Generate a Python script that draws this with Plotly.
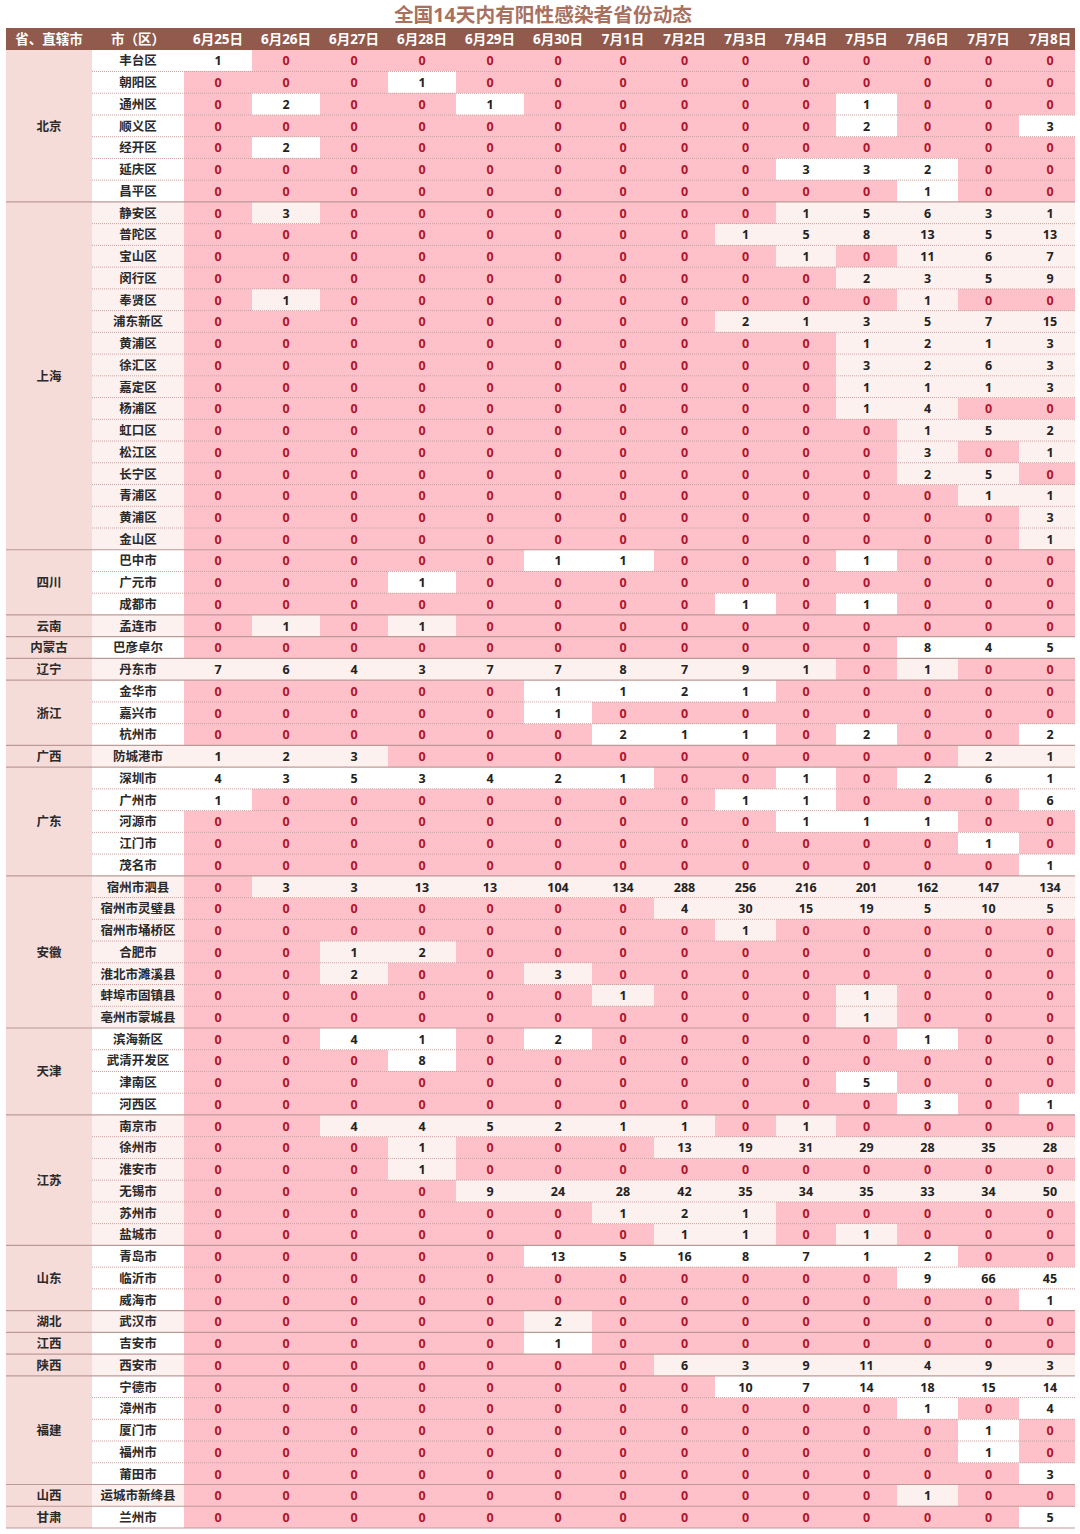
import plotly.graph_objects as go

title = "全国14天内有阳性感染者省份动态"
col_heads = ["省、直辖市", "市（区）"]
dates = ["6月25日", "6月26日", "6月27日", "6月28日", "6月29日", "6月30日", "7月1日",
         "7月2日", "7月3日", "7月4日", "7月5日", "7月6日", "7月7日", "7月8日"]

provinces = ["北京", "上海", "四川", "云南", "内蒙古", "辽宁", "浙江", "广西", "广东", "安徽",
             "天津", "江苏", "山东", "湖北", "江西", "陕西", "福建", "山西", "甘肃"]
province_rows = [7, 16, 3, 1, 1, 1, 3, 1, 5, 7, 4, 6, 3, 1, 1, 1, 5, 1, 1]

districts = ["丰台区", "朝阳区", "通州区", "顺义区", "经开区", "延庆区", "昌平区",
             "静安区", "普陀区", "宝山区", "闵行区", "奉贤区", "浦东新区", "黄浦区", "徐汇区",
             "嘉定区", "杨浦区", "虹口区", "松江区", "长宁区", "青浦区", "黄浦区", "金山区",
             "巴中市", "广元市", "成都市", "孟连市", "巴彦卓尔", "丹东市",
             "金华市", "嘉兴市", "杭州市", "防城港市",
             "深圳市", "广州市", "河源市", "江门市", "茂名市",
             "宿州市泗县", "宿州市灵璧县", "宿州市埇桥区", "合肥市", "淮北市濉溪县", "蚌埠市固镇县", "亳州市蒙城县",
             "滨海新区", "武清开发区", "津南区", "河西区",
             "南京市", "徐州市", "淮安市", "无锡市", "苏州市", "盐城市",
             "青岛市", "临沂市", "威海市", "武汉市", "吉安市", "西安市",
             "宁德市", "漳州市", "厦门市", "福州市", "莆田市", "运城市新绛县", "兰州市"]

values = [
    [1, 0, 0, 0, 0, 0, 0, 0, 0, 0, 0, 0, 0, 0],
    [0, 0, 0, 1, 0, 0, 0, 0, 0, 0, 0, 0, 0, 0],
    [0, 2, 0, 0, 1, 0, 0, 0, 0, 0, 1, 0, 0, 0],
    [0, 0, 0, 0, 0, 0, 0, 0, 0, 0, 2, 0, 0, 3],
    [0, 2, 0, 0, 0, 0, 0, 0, 0, 0, 0, 0, 0, 0],
    [0, 0, 0, 0, 0, 0, 0, 0, 0, 3, 3, 2, 0, 0],
    [0, 0, 0, 0, 0, 0, 0, 0, 0, 0, 0, 1, 0, 0],
    [0, 3, 0, 0, 0, 0, 0, 0, 0, 1, 5, 6, 3, 1],
    [0, 0, 0, 0, 0, 0, 0, 0, 1, 5, 8, 13, 5, 13],
    [0, 0, 0, 0, 0, 0, 0, 0, 0, 1, 0, 11, 6, 7],
    [0, 0, 0, 0, 0, 0, 0, 0, 0, 0, 2, 3, 5, 9],
    [0, 1, 0, 0, 0, 0, 0, 0, 0, 0, 0, 1, 0, 0],
    [0, 0, 0, 0, 0, 0, 0, 0, 2, 1, 3, 5, 7, 15],
    [0, 0, 0, 0, 0, 0, 0, 0, 0, 0, 1, 2, 1, 3],
    [0, 0, 0, 0, 0, 0, 0, 0, 0, 0, 3, 2, 6, 3],
    [0, 0, 0, 0, 0, 0, 0, 0, 0, 0, 1, 1, 1, 3],
    [0, 0, 0, 0, 0, 0, 0, 0, 0, 0, 1, 4, 0, 0],
    [0, 0, 0, 0, 0, 0, 0, 0, 0, 0, 0, 1, 5, 2],
    [0, 0, 0, 0, 0, 0, 0, 0, 0, 0, 0, 3, 0, 1],
    [0, 0, 0, 0, 0, 0, 0, 0, 0, 0, 0, 2, 5, 0],
    [0, 0, 0, 0, 0, 0, 0, 0, 0, 0, 0, 0, 1, 1],
    [0, 0, 0, 0, 0, 0, 0, 0, 0, 0, 0, 0, 0, 3],
    [0, 0, 0, 0, 0, 0, 0, 0, 0, 0, 0, 0, 0, 1],
    [0, 0, 0, 0, 0, 1, 1, 0, 0, 0, 1, 0, 0, 0],
    [0, 0, 0, 1, 0, 0, 0, 0, 0, 0, 0, 0, 0, 0],
    [0, 0, 0, 0, 0, 0, 0, 0, 1, 0, 1, 0, 0, 0],
    [0, 1, 0, 1, 0, 0, 0, 0, 0, 0, 0, 0, 0, 0],
    [0, 0, 0, 0, 0, 0, 0, 0, 0, 0, 0, 8, 4, 5],
    [7, 6, 4, 3, 7, 7, 8, 7, 9, 1, 0, 1, 0, 0],
    [0, 0, 0, 0, 0, 1, 1, 2, 1, 0, 0, 0, 0, 0],
    [0, 0, 0, 0, 0, 1, 0, 0, 0, 0, 0, 0, 0, 0],
    [0, 0, 0, 0, 0, 0, 2, 1, 1, 0, 2, 0, 0, 2],
    [1, 2, 3, 0, 0, 0, 0, 0, 0, 0, 0, 0, 2, 1],
    [4, 3, 5, 3, 4, 2, 1, 0, 0, 1, 0, 2, 6, 1],
    [1, 0, 0, 0, 0, 0, 0, 0, 1, 1, 0, 0, 0, 6],
    [0, 0, 0, 0, 0, 0, 0, 0, 0, 1, 1, 1, 0, 0],
    [0, 0, 0, 0, 0, 0, 0, 0, 0, 0, 0, 0, 1, 0],
    [0, 0, 0, 0, 0, 0, 0, 0, 0, 0, 0, 0, 0, 1],
    [0, 3, 3, 13, 13, 104, 134, 288, 256, 216, 201, 162, 147, 134],
    [0, 0, 0, 0, 0, 0, 0, 4, 30, 15, 19, 5, 10, 5],
    [0, 0, 0, 0, 0, 0, 0, 0, 1, 0, 0, 0, 0, 0],
    [0, 0, 1, 2, 0, 0, 0, 0, 0, 0, 0, 0, 0, 0],
    [0, 0, 2, 0, 0, 3, 0, 0, 0, 0, 0, 0, 0, 0],
    [0, 0, 0, 0, 0, 0, 1, 0, 0, 0, 1, 0, 0, 0],
    [0, 0, 0, 0, 0, 0, 0, 0, 0, 0, 1, 0, 0, 0],
    [0, 0, 4, 1, 0, 2, 0, 0, 0, 0, 0, 1, 0, 0],
    [0, 0, 0, 8, 0, 0, 0, 0, 0, 0, 0, 0, 0, 0],
    [0, 0, 0, 0, 0, 0, 0, 0, 0, 0, 5, 0, 0, 0],
    [0, 0, 0, 0, 0, 0, 0, 0, 0, 0, 0, 3, 0, 1],
    [0, 0, 4, 4, 5, 2, 1, 1, 0, 1, 0, 0, 0, 0],
    [0, 0, 0, 1, 0, 0, 0, 13, 19, 31, 29, 28, 35, 28],
    [0, 0, 0, 1, 0, 0, 0, 0, 0, 0, 0, 0, 0, 0],
    [0, 0, 0, 0, 9, 24, 28, 42, 35, 34, 35, 33, 34, 50],
    [0, 0, 0, 0, 0, 0, 1, 2, 1, 0, 0, 0, 0, 0],
    [0, 0, 0, 0, 0, 0, 0, 1, 1, 0, 1, 0, 0, 0],
    [0, 0, 0, 0, 0, 13, 5, 16, 8, 7, 1, 2, 0, 0],
    [0, 0, 0, 0, 0, 0, 0, 0, 0, 0, 0, 9, 66, 45],
    [0, 0, 0, 0, 0, 0, 0, 0, 0, 0, 0, 0, 0, 1],
    [0, 0, 0, 0, 0, 2, 0, 0, 0, 0, 0, 0, 0, 0],
    [0, 0, 0, 0, 0, 1, 0, 0, 0, 0, 0, 0, 0, 0],
    [0, 0, 0, 0, 0, 0, 0, 6, 3, 9, 11, 4, 9, 3],
    [0, 0, 0, 0, 0, 0, 0, 0, 10, 7, 14, 18, 15, 14],
    [0, 0, 0, 0, 0, 0, 0, 0, 0, 0, 0, 1, 0, 4],
    [0, 0, 0, 0, 0, 0, 0, 0, 0, 0, 0, 0, 1, 0],
    [0, 0, 0, 0, 0, 0, 0, 0, 0, 0, 0, 0, 1, 0],
    [0, 0, 0, 0, 0, 0, 0, 0, 0, 0, 0, 0, 0, 3],
    [0, 0, 0, 0, 0, 0, 0, 0, 0, 0, 0, 1, 0, 0],
    [0, 0, 0, 0, 0, 0, 0, 0, 0, 0, 0, 0, 0, 5],
]

# column edges in page pixels
col_edges = [6, 92, 184, 252, 320, 388, 456, 524, 592, 654, 715, 776, 836, 897, 958, 1019, 1075]
col_mid = [(a + b) / 2 for a, b in zip(col_edges[:-1], col_edges[1:])]
col_mid[-1] = 1050  # last column's text sits right of its cell centre in the original

PINK, WHITE, BLUSH, PROV, HEAD = 0, 1, 2, 3, 4
colors = ["#fec1ca", "#ffffff", "#fdf1ef", "#f6dcd9", "#925a4c"]
colorscale = []
for i, c in enumerate(colors):
    colorscale += [[i / 5, c], [(i + 1) / 5, c]]

n_rows = len(districts)
row_edges = list(range(-1, n_rows + 1))
TEXT_NUDGE = 0.08  # text renders slightly high in the band
row_mid = [i + 0.5 + TEXT_NUDGE for i in range(n_rows)]

# cell categories, one header row then one row per district
z = [[HEAD] * 16]
row = 0
prov_mid = []
for g, count in enumerate(province_rows):
    tint = BLUSH if g % 2 else WHITE
    prov_mid.append(row + count / 2 + TEXT_NUDGE)
    for _ in range(count):
        z.append([PROV, tint] + [tint if v else PINK for v in values[row]])
        row += 1

fig = go.Figure()
fig.add_trace(go.Heatmap(x=col_edges, y=row_edges, z=z, zmin=0, zmax=5,
                         colorscale=colorscale, showscale=False, hoverinfo="skip"))

# row lines: dotted inside a province, solid between provinces
boundaries = []
total = 0
for count in province_rows:
    total += count
    boundaries.append(total)
line_x, line_y = [], []
for r in range(1, n_rows):
    if r not in boundaries:
        line_x += [col_edges[1], col_edges[-1], None]
        line_y += [r, r, None]
fig.add_trace(go.Scatter(x=line_x, y=line_y, mode="lines",
                         line=dict(color="#c9a3a3", width=1, dash="1px,1px"), hoverinfo="skip"))
line_x, line_y = [], []
for r in boundaries:
    line_x += [col_edges[0], col_edges[-1], None]
    line_y += [r, r, None]
fig.add_trace(go.Scatter(x=line_x, y=line_y, mode="lines",
                         line=dict(color="#bc9a98", width=1.2), hoverinfo="skip"))

FONT = "Open Sans, Noto Sans CJK SC"


def add_text(xs, ys, texts, color, size):
    fig.add_trace(go.Scatter(x=xs, y=ys, text=texts, mode="text", textposition="middle center",
                             textfont=dict(family=FONT, size=size, color=color, weight="bold"),
                             hoverinfo="skip"))


add_text(col_mid, [-0.5 + TEXT_NUDGE] * 16, col_heads + dates, "#ffffff", 13.5)
add_text([col_mid[0]] * len(provinces), prov_mid, provinces, "#2a2a2a", 12.5)
add_text([col_mid[1]] * n_rows, row_mid, districts, "#2a2a2a", 12.5)

zero_x, zero_y, num_x, num_y, num_t = [], [], [], [], []
for r, vals in enumerate(values):
    for c, v in enumerate(vals):
        if v:
            num_x.append(col_mid[c + 2])
            num_y.append(row_mid[r])
            num_t.append(str(v))
        else:
            zero_x.append(col_mid[c + 2])
            zero_y.append(row_mid[r])
add_text(zero_x, zero_y, ["0"] * len(zero_x), "#b0132b", 12.5)
add_text(num_x, num_y, num_t, "#222222", 12.5)

row_h = 1500 / (n_rows + 1)
fig.update_layout(
    width=1080, height=1534,
    margin=dict(l=0, r=0, t=0, b=0),
    paper_bgcolor="white", plot_bgcolor="white",
    showlegend=False,
    title=dict(text=title, x=543 / 1080, xanchor="center", y=1 - 15.5 / 1534, yanchor="middle",
               font=dict(family=FONT, size=19.7, color="#a8705f", weight="bold")),
    xaxis=dict(range=[0, 1080], visible=False, fixedrange=True),
    yaxis=dict(range=[n_rows + 6 / row_h, -1 - 28 / row_h], visible=False, fixedrange=True),
)
fig.write_html("out.html", config=dict(displayModeBar=False),
               post_script="document.body.style.margin='0';document.body.style.overflow='hidden';")
